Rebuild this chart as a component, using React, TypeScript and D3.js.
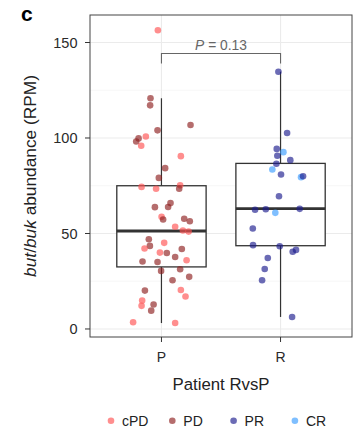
import React from "react";
import * as d3 from "d3";

// Per-patient but/buk abundance (RPM), response class and horizontal jitter (in band steps)
const pValues = [156.4, 120.8, 117.1, 106.8, 104.0, 99.8, 98.2, 100.8, 95.9, 90.5, 84.2, 79.1, 74.4, 73.4, 75.2, 73.4, 63.8, 63.9, 65.9, 58.7, 57.3, 57.7, 56.4, 53.5, 51.6, 51.0, 47.0, 43.5, 42.1, 45.1, 40.0, 39.8, 41.9, 37.7, 36.0, 35.3, 35.1, 30.4, 31.3, 27.3, 25.5, 20.1, 20.4, 17.0, 14.9, 12.1, 12.8, 9.6, 3.5, 3.1];
const pResponse = ["cPD", "PD", "PD", "PD", "PD", "PD", "PD", "cPD", "cPD", "cPD", "PD", "PD", "cPD", "cPD", "cPD", "PD", "PD", "PD", "PD", "cPD", "PD", "PD", "PD", "cPD", "cPD", "cPD", "PD", "PD", "cPD", "cPD", "cPD", "PD", "PD", "PD", "cPD", "PD", "PD", "PD", "PD", "PD", "PD", "PD", "cPD", "cPD", "cPD", "cPD", "PD", "PD", "cPD", "cPD"];
const pJitter = [-0.03, -0.092, -0.095, 0.244, -0.033, -0.192, -0.212, -0.131, -0.17, 0.163, 0.031, -0.022, -0.167, -0.045, 0.157, 0.149, -0.055, 0.056, 0.076, 0.001, 0.014, 0.191, 0.238, 0.115, 0.18, 0.228, -0.106, -0.097, -0.142, 0.023, -0.013, 0.045, 0.171, 0.115, 0.211, -0.159, -0.033, -0.003, 0.157, 0.233, 0.093, -0.139, 0.163, 0.202, -0.162, -0.167, -0.066, -0.086, -0.238, 0.115];

const rValues = [134.7, 102.6, 94.3, 92.6, 90.7, 88.4, 86.5, 83.5, 80.9, 79.5, 80.0, 69.5, 62.4, 62.7, 62.9, 60.8, 52.6, 43.9, 43.3, 40.4, 41.4, 37.2, 31.4, 25.5, 6.3];
const rResponse = ["PR", "PR", "PR", "CR", "PR", "PR", "PR", "CR", "PR", "CR", "PR", "PR", "PR", "PR", "PR", "CR", "PR", "PR", "PR", "PR", "PR", "PR", "PR", "PR", "PR"];
const rJitter = [-0.018, 0.055, -0.032, 0.024, -0.027, 0.082, -0.035, -0.069, 0.004, 0.172, 0.189, -0.013, -0.214, -0.124, 0.161, -0.044, -0.233, -0.231, -0.007, 0.102, 0.13, -0.107, -0.133, -0.155, 0.097];

// Box-plot summaries per group
const boxGroups = ["P", "R"];
const boxLower = [3.1, 6.3];
const boxQ1 = [32.5, 43.6];
const boxMedian = [51.3, 63.0];
const boxQ3 = [75.0, 86.7];
const boxUpper = [120.8, 134.7];

const yTicks = [0, 50, 100, 150];
const yMinorTicks = [25, 75, 125];
const responseLevels = ["cPD", "PD", "PR", "CR"];
const responseColors = ["#ff5252", "#8e1e1e", "#1c1c8e", "#3a9cff"];
const pLabel = "0.13";

const FONT = "'Liberation Sans', Arial, sans-serif";

export default function App() {
  const W = 358;
  const H = 432;
  const left = 90, right = 352, top = 15, bottom = 337;

  const x = d3.scalePoint<string>().domain(boxGroups).range([left, right]).padding(0.6);
  const step = x.step();
  const y = d3.scaleLinear().domain([-4.2, 164.4]).range([bottom, top]);
  const color = d3.scaleOrdinal<string, string>().domain(responseLevels).range(responseColors);

  const points = [
    ...pValues.map((v, i) => ({ g: "P", v, r: pResponse[i], j: pJitter[i] })),
    ...rValues.map((v, i) => ({ g: "R", v, r: rResponse[i], j: rJitter[i] })),
  ];

  const boxW = step * 0.75;
  const textCol = "#2a2a2a";

  return (
    <svg width={W} height={H} style={{ position: "absolute", left: 0, top: 0, background: "#fff" }} fontFamily={FONT}>
      <text x={21} y={21} fontSize={21} fontWeight="bold" fill="#000">c</text>

      {/* grid */}
      {yMinorTicks.map((t) => (
        <line key={"mn" + t} x1={left} x2={right} y1={y(t)} y2={y(t)} stroke="#f4f4f4" strokeWidth={0.8} />
      ))}
      {yTicks.map((t) => (
        <line key={"mj" + t} x1={left} x2={right} y1={y(t)} y2={y(t)} stroke="#ebebeb" strokeWidth={1.1} />
      ))}
      {boxGroups.map((g) => (
        <line key={"vg" + g} x1={x(g)} x2={x(g)} y1={top} y2={bottom} stroke="#ebebeb" strokeWidth={1.1} />
      ))}

      {/* boxes */}
      {boxGroups.map((g, i) => {
        const cx = x(g)!;
        return (
          <g key={"box" + g} stroke="#333" fill="none">
            <line x1={cx} x2={cx} y1={y(boxUpper[i])} y2={y(boxQ3[i])} strokeWidth={1.2} />
            <line x1={cx} x2={cx} y1={y(boxQ1[i])} y2={y(boxLower[i])} strokeWidth={1.2} />
            <rect x={cx - boxW / 2} y={y(boxQ3[i])} width={boxW} height={y(boxQ1[i]) - y(boxQ3[i])} fill="#fff" strokeWidth={1.3} />
            <line x1={cx - boxW / 2} x2={cx + boxW / 2} y1={y(boxMedian[i])} y2={y(boxMedian[i])} strokeWidth={2.8} />
          </g>
        );
      })}

      {/* points */}
      {points.map((p, i) => (
        <circle key={"pt" + i} cx={x(p.g)! + p.j * step} cy={y(p.v)} r={3.3} fill={color(p.r)} fillOpacity={0.65} />
      ))}

      {/* significance bracket */}
      <g stroke="#666" strokeWidth={1.1} fill="none">
        <path d={`M${x("P")},63.5 V53.5 H${x("R")} V63.5`} />
      </g>
      <text x={(x("P")! + x("R")!) / 2} y={50} textAnchor="middle" fontSize={13.8} fill="#666">
        <tspan fontStyle="italic">P</tspan> = {pLabel}
      </text>

      {/* panel border */}
      <rect x={left} y={top} width={right - left} height={bottom - top} fill="none" stroke="#444" strokeWidth={1} />

      {/* y axis */}
      {yTicks.map((t) => (
        <g key={"yt" + t}>
          <line x1={left - 5} x2={left} y1={y(t)} y2={y(t)} stroke="#333" strokeWidth={1} />
          <text x={77.5} y={y(t)} dy="0.36em" textAnchor="end" fontSize={14.5} fill={textCol}>{t}</text>
        </g>
      ))}
      <text transform={`translate(35.5,${(top + bottom) / 2}) rotate(-90)`} textAnchor="middle" fontSize={17.3} fill="#222">
        <tspan fontStyle="italic">but</tspan>/<tspan fontStyle="italic">buk</tspan> abundance (RPM)
      </text>

      {/* x axis */}
      {boxGroups.map((g) => (
        <g key={"xt" + g}>
          <line x1={x(g)} x2={x(g)} y1={bottom} y2={bottom + 5} stroke="#333" strokeWidth={1} />
          <text x={x(g)} y={361.8} textAnchor="middle" fontSize={14} fill={textCol}>{g}</text>
        </g>
      ))}
      <text x={(left + right) / 2} y={390} textAnchor="middle" fontSize={16.8} fill="#222">Patient RvsP</text>

      {/* legend */}
      {responseLevels.map((lv, i) => {
        const lx = 111 + i * 61.3;
        return (
          <g key={"lg" + lv}>
            <circle cx={lx} cy={420.7} r={3.3} fill={color(lv)} fillOpacity={0.65} />
            <text x={lx + 11} y={425.5} fontSize={14} fill="#222">{lv}</text>
          </g>
        );
      })}
    </svg>
  );
}
